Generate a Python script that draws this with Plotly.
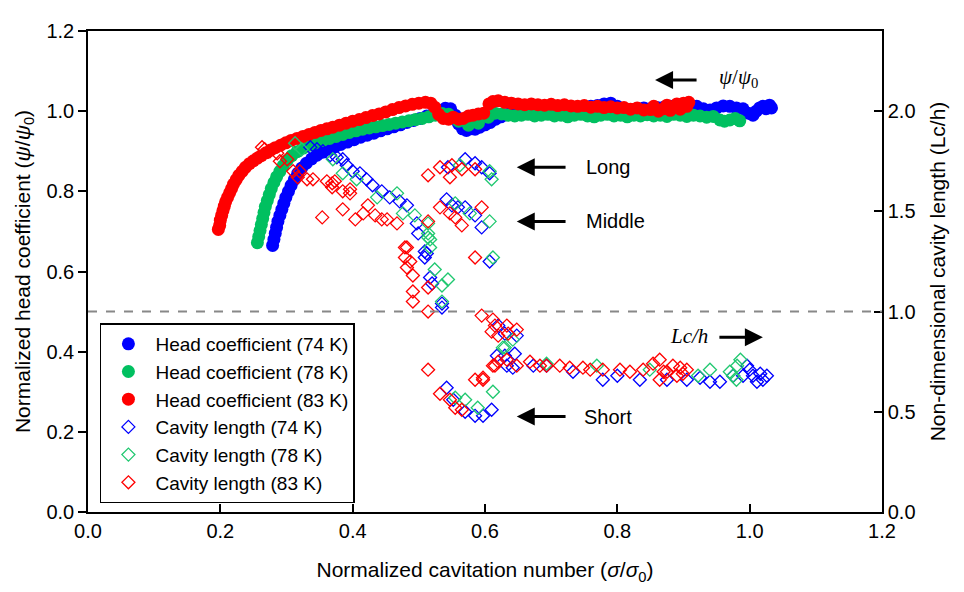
import plotly.graph_objects as go

# ---------------- data ----------------
head74_x = [0.279,0.281,0.283,0.285,0.287,0.290,0.293,0.296,0.299,0.303,0.307,0.312,0.317,0.323,0.330,0.338,0.346,0.355,0.364,0.373,0.382,0.392,0.402,0.412,0.422,0.432,0.442,0.452,0.462,0.472,0.482,0.492,0.502,0.512,0.522,0.532,0.540,0.548,0.555,0.560,0.566,0.572,0.578,0.585,0.592,0.600,0.608,0.616,0.624,0.632,0.640,0.650,0.660,0.670,0.680,0.690,0.700,0.710,0.720,0.730,0.740,0.750,0.760,0.770,0.780,0.790,0.800,0.810,0.820,0.830,0.840,0.850,0.860,0.870,0.880,0.890,0.900,0.910,0.920,0.930,0.940,0.950,0.960,0.970,0.980,0.990,0.998,1.005,1.010,1.015,1.020,1.025,1.030,1.033]
head74_y = [0.665,0.680,0.695,0.710,0.725,0.740,0.755,0.770,0.785,0.800,0.815,0.830,0.845,0.858,0.870,0.881,0.890,0.898,0.905,0.911,0.917,0.923,0.929,0.935,0.940,0.945,0.951,0.956,0.961,0.966,0.972,0.977,0.982,0.988,0.994,1.001,1.007,1.006,0.990,0.968,0.956,0.952,0.956,0.955,0.960,0.966,0.972,0.980,0.986,0.991,0.995,0.998,1.000,1.001,1.000,1.002,1.001,1.003,1.000,1.004,1.005,1.010,1.012,1.014,1.018,1.020,1.012,1.006,1.004,1.006,1.008,1.006,1.009,1.010,1.012,1.008,1.013,1.014,1.012,1.006,1.003,1.008,1.013,1.012,1.008,1.006,0.995,0.990,1.000,1.008,1.012,1.006,1.015,1.008]

head78_x = [0.256,0.258,0.260,0.262,0.264,0.266,0.268,0.271,0.274,0.277,0.281,0.285,0.290,0.295,0.301,0.308,0.316,0.325,0.335,0.345,0.355,0.365,0.375,0.385,0.395,0.405,0.415,0.425,0.435,0.445,0.455,0.465,0.475,0.485,0.495,0.505,0.515,0.525,0.535,0.545,0.560,0.575,0.590,0.605,0.615,0.625,0.635,0.645,0.655,0.665,0.675,0.685,0.695,0.705,0.715,0.725,0.735,0.745,0.755,0.765,0.775,0.785,0.795,0.805,0.815,0.825,0.835,0.845,0.855,0.865,0.875,0.885,0.895,0.905,0.915,0.925,0.935,0.945,0.955,0.962,0.970,0.978,0.985]
head78_y = [0.672,0.687,0.702,0.717,0.732,0.747,0.762,0.777,0.792,0.807,0.822,0.836,0.850,0.864,0.877,0.889,0.899,0.908,0.915,0.921,0.927,0.932,0.937,0.942,0.947,0.951,0.955,0.958,0.961,0.964,0.967,0.970,0.973,0.976,0.979,0.982,0.986,0.990,0.994,0.992,0.975,0.965,0.970,0.985,0.995,0.993,0.990,0.988,0.990,0.992,0.988,0.990,0.992,0.988,0.990,0.986,0.990,0.992,0.988,0.986,0.990,0.992,0.988,0.990,0.986,0.990,0.988,0.991,0.988,0.990,0.987,0.992,0.990,0.987,0.990,0.988,0.985,0.987,0.978,0.975,0.978,0.982,0.976]

head83_x = [0.197,0.199,0.200,0.202,0.204,0.206,0.208,0.211,0.214,0.217,0.220,0.224,0.228,0.233,0.238,0.244,0.250,0.256,0.262,0.269,0.276,0.283,0.291,0.299,0.307,0.316,0.325,0.334,0.343,0.352,0.361,0.370,0.380,0.390,0.400,0.410,0.420,0.430,0.440,0.450,0.460,0.470,0.480,0.490,0.500,0.510,0.518,0.524,0.530,0.537,0.545,0.552,0.560,0.567,0.575,0.582,0.590,0.598,0.606,0.612,0.620,0.630,0.640,0.650,0.660,0.670,0.680,0.690,0.700,0.710,0.720,0.730,0.740,0.750,0.760,0.770,0.780,0.790,0.800,0.810,0.820,0.830,0.840,0.850,0.855,0.862,0.870,0.875,0.880,0.885,0.890,0.895,0.900,0.905,0.908]
head83_y = [0.705,0.715,0.728,0.740,0.752,0.763,0.774,0.785,0.796,0.807,0.818,0.829,0.840,0.850,0.860,0.869,0.876,0.883,0.889,0.896,0.903,0.909,0.915,0.921,0.927,0.932,0.937,0.942,0.947,0.952,0.956,0.960,0.965,0.970,0.975,0.979,0.984,0.989,0.993,0.998,1.004,1.009,1.013,1.017,1.020,1.022,1.020,1.010,0.992,0.982,0.980,0.985,0.980,0.982,0.988,0.990,0.993,0.995,1.018,1.024,1.026,1.022,1.020,1.018,1.016,1.018,1.016,1.015,1.017,1.014,1.016,1.013,1.012,1.014,1.010,1.012,1.009,1.011,1.008,1.009,1.005,1.008,1.003,1.004,1.012,1.000,1.006,1.015,1.002,1.010,1.018,1.005,1.020,1.012,1.022]

cav74_x = [0.336,0.346,0.355,0.366,0.376,0.385,0.391,0.400,0.411,0.421,0.430,0.444,0.456,0.471,0.482,0.497,0.499,0.509,0.509,0.512,0.517,0.520,0.535,0.535,
           0.544,0.570,0.585,0.595,0.607,0.542,0.550,0.559,0.570,0.585,0.595,0.607,
           0.542,0.552,0.570,0.585,0.597,0.610,0.620,0.630,0.648,
           0.618,0.630,0.645,0.642,0.633,0.673,0.693,0.733,0.778,0.800,0.834,0.875,0.905,0.925,0.940,0.955,0.975,0.990,0.996,1.000,1.005,1.011,1.016,1.020,1.026]
cav74_y = [1.82,1.81,1.80,1.78,1.77,1.76,1.73,1.70,1.69,1.66,1.63,1.60,1.57,1.55,1.53,1.44,1.39,1.30,1.27,1.29,1.17,1.14,1.04,1.02,
           1.72,1.76,1.74,1.72,1.69,1.56,1.53,1.52,1.52,1.48,1.42,1.25,
           0.62,0.56,0.50,0.48,0.48,0.51,0.93,0.89,0.88,
           0.78,0.78,0.79,0.72,0.73,0.73,0.73,0.70,0.66,0.68,0.66,0.66,0.66,0.67,0.65,0.65,0.68,0.68,0.73,0.71,0.68,0.65,0.69,0.66,0.68]

cav78_x = [0.313,0.323,0.370,0.385,0.406,0.437,0.467,0.476,0.494,0.514,0.514,0.517,0.517,0.514,0.524,0.544,0.535,0.535,
           0.562,0.607,0.610,0.555,0.577,0.607,0.612,
           0.555,0.570,0.589,0.612,0.630,0.642,
           0.627,0.693,0.769,0.849,0.922,0.940,0.970,0.975,0.981,0.980,0.986]
cav78_y = [1.84,1.81,1.76,1.69,1.66,1.57,1.59,1.49,1.48,1.44,1.39,1.36,1.32,1.37,1.21,1.16,1.13,1.05,
           1.73,1.70,1.66,1.54,1.49,1.45,1.27,
           0.57,0.56,0.52,0.60,0.82,0.86,
           0.82,0.74,0.73,0.71,0.68,0.71,0.70,0.68,0.73,0.66,0.76]

cav83_x = [0.263,0.267,0.275,0.286,0.290,0.301,0.310,0.320,0.317,0.331,0.340,0.354,0.361,0.369,0.373,0.369,0.385,0.396,0.396,0.385,0.404,0.416,0.423,0.434,0.444,0.452,0.467,0.482,
           0.479,0.479,0.487,0.482,0.491,0.491,0.491,0.514,0.514,0.514,
           0.514,0.532,0.550,0.565,0.585,0.547,0.532,0.547,0.555,0.565,0.595,0.585,
           0.595,0.612,0.615,0.610,0.633,0.635,0.648,0.620,
           0.514,0.532,0.547,0.555,0.565,0.585,0.597,0.612,0.620,
           0.597,0.615,0.633,0.648,0.668,0.683,0.693,0.713,0.728,0.748,0.759,0.778,0.804,0.819,0.839,0.854,0.864,0.875,0.884,0.895,0.899,0.864,0.870,0.890,0.905]
cav83_y = [1.82,1.81,1.80,1.79,1.75,1.76,1.70,1.70,1.67,1.66,1.66,1.47,1.65,1.64,1.65,1.62,1.60,1.61,1.59,1.51,1.46,1.49,1.53,1.48,1.46,1.46,1.44,1.32,
           1.32,1.27,1.25,1.22,1.18,1.10,1.05,1.45,1.12,1.00,
           1.68,1.72,1.73,1.71,1.71,1.67,1.52,1.49,1.47,1.43,1.52,1.27,
           0.98,0.96,0.93,0.90,0.93,0.89,0.91,0.88,
           0.71,0.59,0.56,0.52,0.51,0.66,0.66,0.73,0.75,
           0.67,0.73,0.76,0.73,0.75,0.73,0.73,0.73,0.72,0.72,0.71,0.71,0.71,0.70,0.71,0.74,0.76,0.70,0.73,0.72,0.69,0.66,0.70,0.68,0.71]

x_ticks = [0.0, 0.2, 0.4, 0.6, 0.8, 1.0, 1.2]
y_ticks = [0.0, 0.2, 0.4, 0.6, 0.8, 1.0, 1.2]
y2_ticks = [0.0, 0.5, 1.0, 1.5, 2.0]

BLUE = "#0000FF"
GREEN = "#00C060"
RED = "#FF0000"
FONT = "Arial, Liberation Sans, sans-serif"
TIMES = "Times New Roman, Liberation Serif, serif"

fig = go.Figure()

def head(x, y, name, color):
    fig.add_trace(go.Scatter(x=x, y=y, mode="markers", name=name,
                             marker=dict(symbol="circle", size=13, color=color, line=dict(width=0))))

def cav(x, y, name, color):
    fig.add_trace(go.Scatter(x=x, y=y, mode="markers", name=name, yaxis="y2",
                             marker=dict(symbol="diamond-open", size=10, color=color, line=dict(width=1.3))))

head(head74_x, head74_y, "Head coefficient (74 K)", BLUE)
head(head78_x, head78_y, "Head coefficient (78 K)", GREEN)
head(head83_x, head83_y, "Head coefficient (83 K)", RED)
cav(cav74_x, cav74_y, "Cavity length (74 K)", BLUE)
cav(cav78_x, cav78_y, "Cavity length (78 K)", "#20C870")
cav(cav83_x, cav83_y, "Cavity length (83 K)", RED)

axis_common = dict(showline=True, linecolor="black", linewidth=1.5, showgrid=False, zeroline=False,
                   tickcolor="black", ticklen=8, tickwidth=1.5,
                   tickfont=dict(family=FONT, size=20, color="black"), tickformat=".1f")

fig.update_layout(
    width=964, height=592,
    margin=dict(l=80, r=90, t=14, b=88),
    plot_bgcolor="white", paper_bgcolor="white",
    showlegend=True,
    legend=dict(x=0.015, y=0.392, xanchor="left", yanchor="top",
                bordercolor="black", borderwidth=1.5, bgcolor="white", itemwidth=44,
                font=dict(family=FONT, size=19, color="black")),
    xaxis=dict(range=[0, 1.2], tickvals=x_ticks, ticks="inside", mirror=True,
               title=dict(text="Normalized cavitation number (<i>σ</i>/<i>σ</i><sub>0</sub>)",
                          font=dict(family=FONT, size=21, color="black"), standoff=22),
               **axis_common),
    yaxis=dict(range=[0, 1.2], tickvals=y_ticks, ticks="outside", mirror=True,
               title=dict(text="Normalized head coefficient (<i>ψ</i>/<i>ψ</i><sub>0</sub>)",
                          font=dict(family=FONT, size=21, color="black"), standoff=10),
               **axis_common),
    yaxis2=dict(range=[0, 2.4], tickvals=y2_ticks, ticks="inside", overlaying="y", side="right",
                title=dict(text="Non-dimensional cavity length (Lc/h)",
                           font=dict(family=FONT, size=21, color="black"), standoff=16),
                **axis_common),
)

fig.add_shape(type="line", xref="paper", yref="y", x0=0, x1=1, y0=0.5, y1=0.5,
              line=dict(color="#888888", width=2, dash="dash"))

def arrow(x_tip, x_tail, y):
    fig.add_annotation(x=x_tip, y=y, ax=x_tail, ay=y, xref="x", yref="y", axref="x", ayref="y",
                       text="", showarrow=True, arrowhead=2, arrowsize=1.2, arrowwidth=3,
                       arrowcolor="black")

arrow(0.857, 0.922, 1.078)
arrow(0.648, 0.724, 0.86)
arrow(0.648, 0.724, 0.725)
arrow(0.648, 0.724, 0.238)
arrow(1.020, 0.952, 0.436)

def label(x, y, text, fam=FONT, size=20):
    fig.add_annotation(x=x, y=y, xref="x", yref="y", text=text, showarrow=False,
                       xanchor="left", font=dict(family=fam, size=size, color="black"))

label(0.750, 0.86, "Long")
label(0.750, 0.725, "Middle")
label(0.746, 0.238, "Short")
label(0.950, 1.084, "<i>ψ</i>/<i>ψ</i><sub>0</sub>", TIMES, 21)
label(0.876, 0.44, "<i>Lc/h</i>", TIMES, 21)

fig.write_html("out.html")
